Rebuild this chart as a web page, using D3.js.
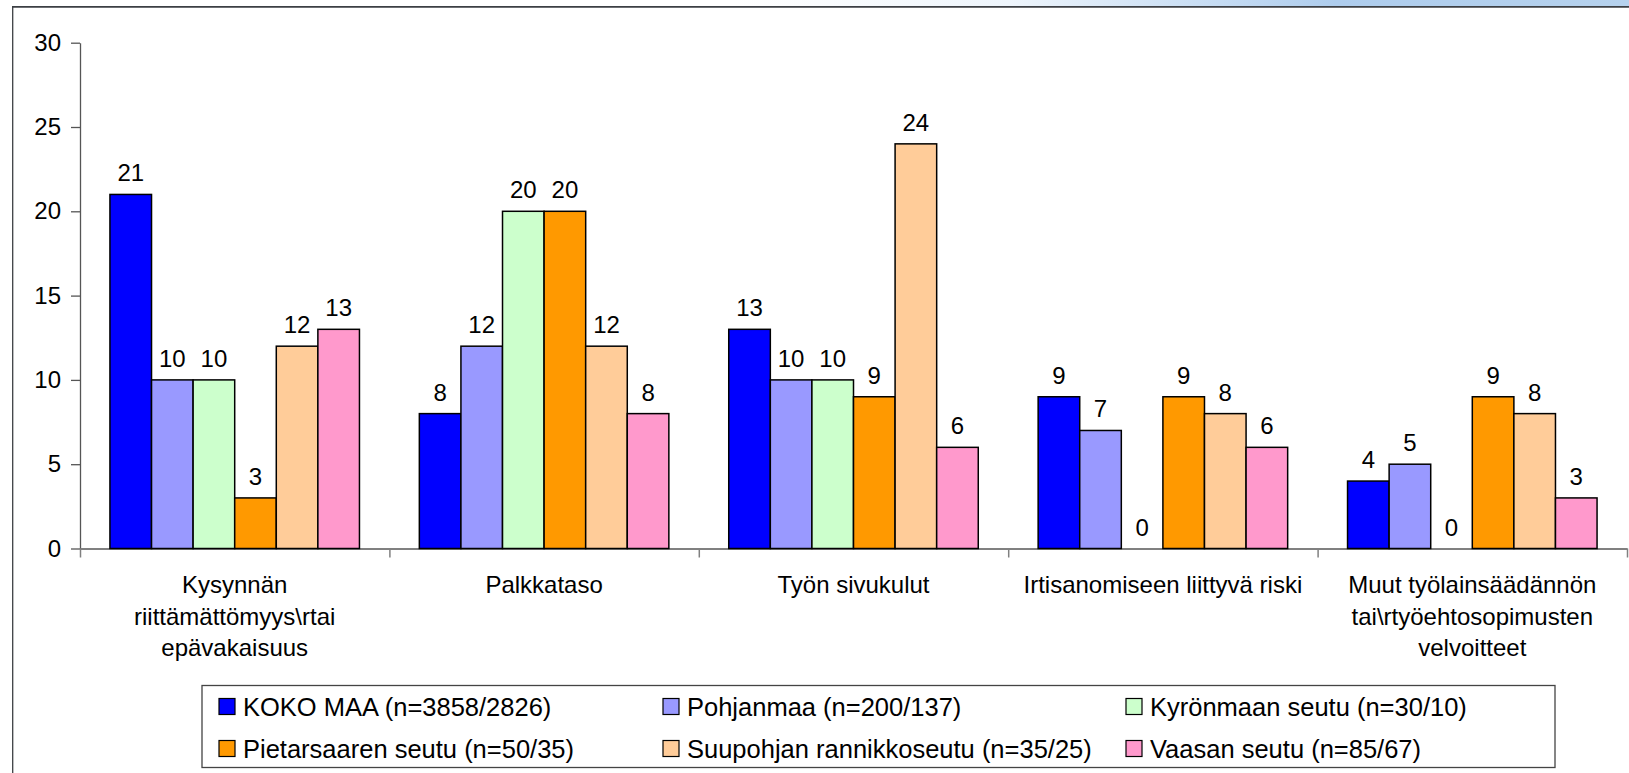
<!DOCTYPE html>
<html>
<head>
<meta charset="utf-8">
<script src="https://cdn.jsdelivr.net/npm/d3@7"></script>
<style>
	body { margin: 0; background: #fff; }
	svg { display: block; font-family: Arial, 'Liberation Sans', sans-serif; }
</style>
</head>
<body>
<svg id="chart" width="1629" height="773"></svg>
<script>
// categories (x axis), each split into lines
var categories = [
	['Kysynnän', 'riittämättömyys\\rtai', 'epävakaisuus'],
	['Palkkataso'],
	['Työn sivukulut'],
	['Irtisanomiseen liittyvä riski'],
	['Muut työlainsäädännön', 'tai\\rtyöehtosopimusten', 'velvoitteet']
]

var seriesNames = [
	'KOKO MAA (n=3858/2826)',
	'Pohjanmaa (n=200/137)',
	'Kyrönmaan seutu (n=30/10)',
	'Pietarsaaren seutu (n=50/35)',
	'Suupohjan rannikkoseutu (n=35/25)',
	'Vaasan seutu (n=85/67)'
]

var seriesColors = ['#0000ff', '#9999ff', '#ccffcc', '#ff9900', '#ffcc99', '#ff99cc']

// one array per series, in category order
var kokoMaa     = [21, 8, 13, 9, 4]
var pohjanmaa   = [10, 12, 10, 7, 5]
var kyronmaa    = [10, 20, 10, 0, 0]
var pietarsaari = [3, 20, 9, 9, 9]
var suupohja    = [12, 12, 24, 8, 8]
var vaasa       = [13, 8, 6, 6, 3]

var seriesValues = [kokoMaa, pohjanmaa, kyronmaa, pietarsaari, suupohja, vaasa]

var yTicks = [0, 5, 10, 15, 20, 25, 30]


var svg = d3.select('#chart')

var plot = {left: 80, right: 1627, top: 42.7, bottom: 548.5}

// frame: gradient strip, top rule, left rule
var defs = svg.append('defs')
var grad = defs.append('linearGradient').attr('id', 'strip')
grad.append('stop').attr('offset', '0%').attr('stop-color', '#ffffff')
grad.append('stop').attr('offset', '45%').attr('stop-color', '#ffffff')
grad.append('stop').attr('offset', '62%').attr('stop-color', '#eef5fc')
grad.append('stop').attr('offset', '82%').attr('stop-color', '#aecdee')
grad.append('stop').attr('offset', '100%').attr('stop-color', '#b6d2ee')

svg.append('rect').attr('x', 0).attr('y', 0).attr('width', 1629).attr('height', 6)
	.attr('fill', 'url(#strip)')
svg.append('line').attr('x1', 12).attr('x2', 1629).attr('y1', 6.8).attr('y2', 6.8)
	.attr('stroke', '#3c3f44').attr('stroke-width', 1.8)
svg.append('line').attr('x1', 12.7).attr('x2', 12.7).attr('y1', 6).attr('y2', 773)
	.attr('stroke', '#3c3f44').attr('stroke-width', 1.3)

//MARK: scales
var x0 = d3.scaleBand()
	.domain(d3.range(categories.length))
	.range([plot.left, plot.right])
	.padding(0)

var x1 = d3.scaleBand()
	.domain(d3.range(seriesNames.length))
	.range([0, x0.bandwidth()])
	.paddingInner(0)
	.paddingOuter(0.72)

var yscale = d3.scaleLinear().domain([0, 30]).range([plot.bottom, plot.top])

// boundaries between categories for the x ticks
var xEdges = d3.scaleLinear().domain([0, categories.length]).range([plot.left, plot.right])

//MARK: axes
var yAxis = svg.append('g')
	.attr('transform', 'translate(' + plot.left + ',0)')
	.call(d3.axisLeft(yscale).tickValues(yTicks).tickSize(9).tickPadding(10).tickSizeOuter(0))
yAxis.select('.domain').attr('stroke', '#555').attr('stroke-width', 1.3)
yAxis.selectAll('.tick line').attr('stroke', '#555').attr('stroke-width', 1.3)
yAxis.selectAll('.tick text').attr('font-size', '24px').attr('fill', '#000')
	.attr('font-family', "Arial, 'Liberation Sans', sans-serif")

var xAxis = svg.append('g')
	.attr('transform', 'translate(0,' + plot.bottom + ')')
	.call(d3.axisBottom(xEdges).ticks(categories.length).tickFormat('').tickSize(9).tickSizeOuter(0))
xAxis.select('.domain').attr('stroke', '#808080').attr('stroke-width', 2)
xAxis.selectAll('.tick line').attr('stroke', '#808080').attr('stroke-width', 1.5)

// category labels
var catLabels = svg.append('g').selectAll('text')
	.data(categories)
	.enter().append('text')
		.attr('text-anchor', 'middle')
		.attr('font-size', '24px')
		.attr('fill', '#000')
		.attr('x', (d, i) => x0(i) + x0.bandwidth() / 2)
		.attr('y', 593)

catLabels.selectAll('tspan')
	.data(d => d)
	.enter().append('tspan')
		.attr('x', function() { return this.parentNode.getAttribute('x') })
		.attr('dy', (d, i) => i == 0 ? 0 : 31.5)
		.text(d => d)

//MARK: bars
var groups = svg.append('g').selectAll('g')
	.data(seriesValues)
	.enter().append('g')
		.attr('fill', (d, i) => seriesColors[i])

groups.each(function(values, s) {
	var g = d3.select(this)
	g.selectAll('rect')
		.data(values)
		.enter().append('rect')
			.filter(d => d > 0)
			.attr('x', (d, i) => x0(i) + x1(s))
			.attr('y', d => yscale(d))
			.attr('width', x1.bandwidth())
			.attr('height', d => yscale(0) - yscale(d))
			.attr('stroke', '#000')
			.attr('stroke-width', 1.5)

	g.selectAll('text')
		.data(values)
		.enter().append('text')
			.attr('x', (d, i) => x0(i) + x1(s) + x1.bandwidth() / 2)
			.attr('y', d => yscale(d) - 13)
			.attr('text-anchor', 'middle')
			.attr('font-size', '24px')
			.attr('fill', '#000')
			.text(d => d)
})

//MARK: legend
var legend = svg.append('g')
legend.append('rect')
	.attr('x', 202).attr('y', 685.5)
	.attr('width', 1353).attr('height', 82)
	.attr('fill', '#fff').attr('stroke', '#444').attr('stroke-width', 1.3)

var legendCols = [219, 663, 1126]
var legendRows = [706.5, 748.5]

var items = legend.selectAll('g.item')
	.data(seriesNames)
	.enter().append('g')
		.attr('class', 'item')
		.attr('transform', (d, i) => 'translate(' + legendCols[i % 3] + ',' + legendRows[Math.floor(i / 3)] + ')')

items.append('rect')
	.attr('x', 0).attr('y', -8)
	.attr('width', 16).attr('height', 16)
	.attr('fill', (d, i) => seriesColors[i])
	.attr('stroke', '#000').attr('stroke-width', 1.2)

items.append('text')
	.attr('x', 24)
	.attr('y', 9)
	.attr('font-size', '25.5px')
	.attr('fill', '#000')
	.text(d => d)
</script>
</body>
</html>
